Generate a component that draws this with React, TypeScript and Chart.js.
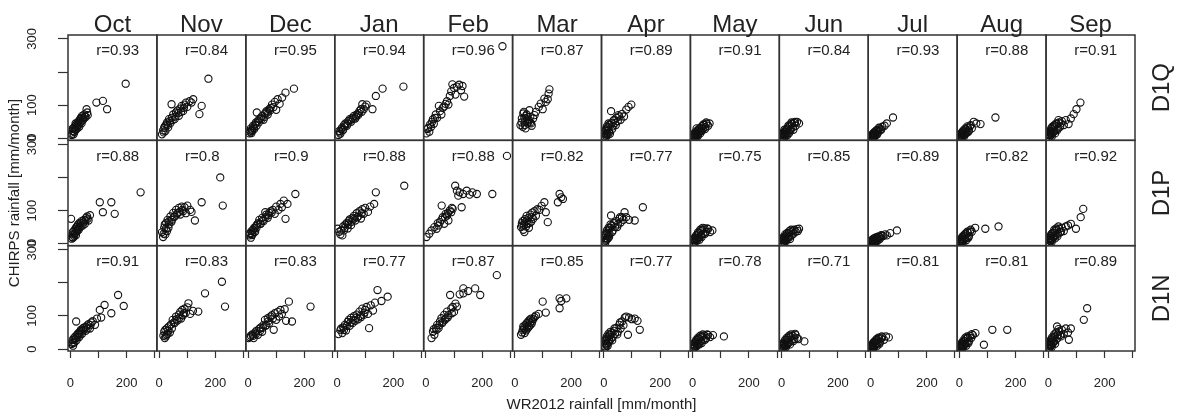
import React, { useEffect, useRef } from 'react';
import { Chart, registerables } from 'chart.js';

Chart.register(...registerables);

const MONTHS = ['Oct', 'Nov', 'Dec', 'Jan', 'Feb', 'Mar', 'Apr', 'May', 'Jun', 'Jul', 'Aug', 'Sep'];
const STATIONS = ['D1Q', 'D1P', 'D1N'];

const R_D1Q = [0.93, 0.84, 0.95, 0.94, 0.96, 0.87, 0.89, 0.91, 0.84, 0.93, 0.88, 0.91];
const R_D1P = [0.88, 0.8, 0.9, 0.88, 0.88, 0.82, 0.77, 0.75, 0.85, 0.89, 0.82, 0.92];
const R_D1N = [0.91, 0.83, 0.83, 0.77, 0.87, 0.85, 0.77, 0.78, 0.71, 0.81, 0.81, 0.89];

const X_TICKS = [0, 100, 200, 300];
const X_TICK_LABELS = ['0', '', '200', ''];
const Y_TICKS = [0, 100, 200, 300];
const Y_TICK_LABELS = ['0', '100', '', '300'];

const X_TITLE = 'WR2012 rainfall [mm/month]';
const Y_TITLE = 'CHIRPS rainfall [mm/month]';

type Pt = [number, number];

// D1Q row: one list of [WR2012, CHIRPS] pairs per month (Oct..Sep)
const D1Q: Pt[][] = [
  [[5,10],[8,22],[10,28],[12,12],[14,32],[15,20],[18,38],[20,26],[22,42],[25,30],[27,48],[30,52],[32,35],[35,58],[38,62],[40,45],[42,68],[45,55],[50,72],[55,64],[58,88],[62,70],[93,108],[116,113],[131,88],[197,165],[7,14],[9,30],[13,20],[17,28],[19,45],[24,38],[29,40],[34,45],[37,50],[44,62],[48,60],[52,66],[60,78]],
  [[10,12],[14,24],[18,32],[22,22],[25,42],[28,48],[32,33],[35,58],[40,46],[44,103],[45,62],[50,72],[55,58],[60,78],[65,84],[70,68],[75,90],[80,98],[85,82],[90,102],[95,108],[100,95],[108,112],[115,108],[121,118],[143,73],[151,98],[175,180],[16,18],[20,36],[30,40],[38,52],[48,55],[58,66],[68,76],[78,80],[88,92]],
  [[5,15],[8,24],[10,30],[12,16],[15,26],[18,38],[22,28],[25,42],[28,48],[31,78],[35,52],[40,58],[45,62],[50,68],[55,56],[60,75],[65,82],[70,72],[75,88],[80,92],[85,102],[90,94],[95,110],[100,86],[105,118],[112,104],[121,123],[133,138],[163,150],[7,20],[14,22],[20,32],[30,38],[38,48],[48,58],[58,64],[68,78],[78,84]],
  [[5,10],[8,22],[12,14],[15,27],[18,32],[22,26],[25,40],[30,45],[35,38],[40,52],[45,58],[50,50],[55,62],[60,68],[65,60],[70,72],[75,70],[80,83],[85,88],[90,103],[95,88],[100,96],[105,102],[126,88],[138,128],[162,150],[236,156],[10,18],[20,24],[28,36],[38,44],[48,55],[58,58],[68,66],[78,76],[88,80]],
  [[2,15],[5,28],[8,32],[12,20],[15,42],[18,34],[22,50],[25,58],[28,44],[32,62],[35,72],[40,62],[46,98],[50,82],[55,72],[60,92],[65,96],[70,104],[75,112],[80,102],[85,128],[90,142],[94,163],[100,152],[105,132],[110,156],[118,162],[125,145],[130,158],[136,126],[272,278]],
  [[20,40],[25,60],[30,75],[35,50],[28,35],[40,68],[45,45],[32,80],[50,55],[38,30],[55,65],[48,50],[60,38],[42,72],[65,60],[52,85],[70,70],[58,45],[75,80],[85,95],[92,105],[99,88],[105,120],[110,110],[117,118],[123,148],[120,135],[24,48],[34,62],[44,58],[54,48],[36,40]],
  [[2,5],[4,14],[6,22],[8,8],[10,30],[12,16],[15,34],[18,24],[20,42],[22,14],[26,82],[28,46],[32,36],[35,54],[40,46],[45,62],[50,52],[55,66],[60,56],[65,74],[72,66],[80,87],[88,95],[98,102],[3,18],[5,2],[7,26],[9,12],[11,36],[14,10],[17,45],[19,18],[24,40],[30,28],[38,56],[43,40],[52,70]],
  [[2,2],[4,8],[6,3],[8,12],[10,6],[12,17],[15,10],[18,22],[20,14],[22,27],[25,20],[28,32],[30,24],[33,37],[36,28],[40,40],[45,34],[50,44],[55,38],[60,45],[3,10],[5,14],[7,2],[9,18],[14,5],[16,24],[19,8],[24,30],[27,15],[32,22],[38,42],[44,28],[48,48],[14,30]],
  [[2,3],[4,10],[6,4],[8,14],[10,8],[12,20],[15,12],[18,24],[20,30],[22,18],[25,34],[28,24],[30,40],[33,28],[36,44],[40,33],[45,47],[50,38],[55,50],[62,45],[3,12],[5,16],[7,2],[9,20],[14,6],[17,28],[21,10],[24,38],[27,16],[31,24],[35,48],[42,26],[48,50],[10,26]],
  [[1,2],[3,6],[5,9],[7,3],[9,12],[11,6],[13,16],[15,10],[18,18],[20,22],[22,13],[25,24],[28,23],[32,30],[36,27],[42,35],[50,38],[58,45],[80,63],[2,8],[4,1],[6,12],[8,6],[10,15],[12,3],[14,19],[17,8],[21,25],[24,12],[27,18],[30,32],[38,26]],
  [[1,2],[3,6],[5,12],[7,5],[9,16],[11,7],[13,20],[15,10],[18,24],[20,14],[23,27],[26,18],[30,32],[34,24],[38,37],[44,30],[51,50],[60,45],[75,43],[128,63],[2,8],[4,1],[6,14],[8,3],[10,19],[12,12],[14,24],[17,6],[21,30],[24,15],[28,36],[32,20],[40,40]],
  [[1,3],[3,10],[5,17],[7,8],[9,22],[11,12],[13,28],[15,16],[18,33],[20,20],[23,38],[26,26],[30,43],[34,30],[38,48],[42,35],[48,52],[55,40],[62,55],[72,43],[80,60],[90,73],[100,88],[114,108],[2,12],[4,2],[6,20],[8,15],[10,30],[12,5],[14,35],[17,24],[21,40],[24,15],[28,45],[32,25],[36,55],[45,45]],
];

const D1P: Pt[][] = [
  [[3,75],[5,15],[8,28],[10,18],[12,38],[15,28],[18,45],[20,25],[22,50],[25,38],[28,58],[30,42],[33,63],[36,50],[40,68],[44,55],[48,72],[52,60],[56,78],[60,82],[65,70],[70,86],[105,125],[116,95],[146,125],[158,90],[250,155],[6,20],[9,35],[14,22],[17,32],[21,38],[24,52],[27,45],[32,50],[38,62],[46,64],[54,70],[62,75]],
  [[10,35],[14,20],[18,48],[20,58],[22,28],[25,63],[28,38],[30,72],[33,48],[36,68],[40,82],[45,72],[50,93],[55,82],[60,102],[65,92],[70,108],[75,88],[80,112],[85,98],[90,110],[95,92],[100,115],[110,102],[115,96],[127,70],[151,125],[217,200],[226,115],[16,30],[24,45],[34,58],[44,66],[52,80],[62,88],[72,96],[82,102]],
  [[5,25],[8,32],[10,18],[12,38],[15,26],[18,42],[22,48],[25,36],[28,53],[32,58],[36,62],[40,72],[45,60],[50,78],[55,68],[61,95],[65,88],[70,78],[75,93],[80,98],[88,102],[95,90],[100,112],[108,102],[115,120],[120,110],[127,130],[133,75],[140,120],[168,150],[6,30],[14,30],[20,36],[30,48],[42,60],[52,70],[62,80],[72,86],[84,94]],
  [[2,45],[8,36],[12,28],[19,25],[22,52],[25,40],[30,58],[35,63],[38,46],[42,68],[45,73],[50,56],[55,78],[60,84],[65,70],[70,92],[75,82],[80,98],[85,76],[90,104],[95,90],[100,108],[110,96],[118,112],[132,120],[138,155],[239,175],[15,40],[28,48],[40,58],[52,66],[62,76],[72,80],[88,92]],
  [[2,20],[12,30],[20,40],[38,45],[45,55],[50,65],[56,115],[60,80],[65,60],[70,90],[75,85],[80,70],[85,100],[90,95],[95,105],[104,175],[110,160],[115,145],[120,155],[127,110],[132,150],[145,160],[155,148],[165,155],[181,150],[236,150],[288,265],[30,50],[42,62],[55,72],[68,80],[78,92],[92,108]],
  [[22,50],[25,62],[28,68],[30,42],[34,35],[36,74],[40,52],[42,84],[45,60],[48,78],[50,48],[55,88],[58,66],[62,94],[65,75],[70,98],[75,84],[80,104],[88,102],[95,114],[105,125],[117,65],[110,95],[153,125],[159,150],[165,140],[171,135],[26,55],[33,58],[44,70],[52,62],[60,80],[38,66]],
  [[2,5],[4,17],[6,9],[8,25],[10,16],[12,33],[15,22],[18,42],[20,30],[22,48],[26,85],[28,54],[32,40],[35,62],[40,50],[45,68],[50,58],[55,75],[60,64],[65,80],[70,72],[74,95],[80,80],[90,72],[110,70],[139,110],[3,25],[5,2],[7,30],[9,12],[11,40],[14,15],[17,48],[19,20],[24,58],[30,35],[38,62],[48,50],[58,80]],
  [[2,3],[4,10],[6,14],[8,5],[10,18],[12,22],[15,9],[18,28],[20,16],[22,33],[25,20],[28,38],[30,26],[34,42],[38,30],[42,46],[48,36],[55,44],[62,35],[70,40],[3,14],[5,2],[7,18],[9,10],[13,26],[16,14],[19,34],[24,12],[27,42],[32,20],[36,48],[44,30],[52,46]],
  [[2,4],[4,10],[6,14],[8,5],[10,18],[12,9],[15,23],[18,13],[20,28],[22,16],[25,31],[28,20],[32,35],[36,26],[40,38],[45,42],[50,36],[55,44],[62,45],[3,14],[5,2],[7,20],[9,12],[13,28],[16,8],[19,32],[24,22],[27,38],[30,14],[34,42],[42,30],[58,38]],
  [[1,2],[3,6],[5,9],[7,3],[9,12],[11,6],[13,14],[15,8],[18,16],[20,10],[23,18],[26,12],[30,20],[35,19],[40,24],[45,23],[52,28],[58,25],[70,32],[94,40],[2,8],[4,1],[6,12],[8,6],[10,14],[12,3],[14,17],[17,6],[21,20],[24,8],[28,22],[33,14],[38,26]],
  [[1,2],[3,7],[5,12],[7,3],[9,16],[11,7],[13,20],[15,10],[18,25],[20,14],[23,29],[26,18],[30,33],[34,23],[38,37],[44,36],[56,48],[92,45],[139,52],[2,8],[4,1],[6,14],[8,8],[10,20],[12,3],[14,24],[17,16],[21,30],[24,10],[28,36],[32,18],[40,42]],
  [[1,5],[3,12],[5,17],[7,7],[9,23],[11,11],[13,28],[15,16],[18,33],[20,20],[23,38],[26,26],[30,41],[34,30],[38,45],[42,34],[48,48],[55,38],[62,52],[70,55],[80,60],[98,45],[115,80],[124,105],[2,14],[4,3],[6,22],[8,14],[10,28],[12,6],[14,32],[17,22],[21,42],[24,16],[28,46],[32,22],[36,52],[45,36]],
];

const D1N: Pt[][] = [
  [[5,15],[8,27],[10,10],[12,32],[15,20],[18,38],[21,83],[22,26],[25,43],[28,48],[32,36],[35,53],[38,58],[42,46],[45,63],[50,65],[55,55],[60,71],[65,75],[70,62],[75,80],[80,84],[88,73],[95,92],[105,118],[110,95],[122,133],[146,108],[170,163],[190,130],[7,20],[11,18],[16,30],[20,32],[26,36],[30,45],[36,44],[40,55],[48,58],[56,66],[62,62],[72,72]],
  [[15,40],[18,52],[20,33],[22,58],[26,43],[28,63],[30,46],[35,68],[38,50],[42,74],[48,88],[55,78],[60,98],[65,86],[70,104],[75,112],[78,92],[82,118],[85,102],[90,122],[95,110],[100,126],[104,138],[110,106],[120,115],[139,113],[163,168],[223,203],[234,128],[24,38],[32,55],[45,62],[52,80],[62,90],[72,94],[88,108]],
  [[2,33],[10,40],[15,44],[20,33],[25,50],[30,55],[35,43],[40,61],[45,65],[50,52],[55,73],[60,88],[65,72],[70,93],[75,78],[80,98],[85,102],[91,58],[95,108],[100,88],[105,112],[110,98],[115,118],[120,106],[130,120],[135,85],[145,143],[156,83],[222,128],[6,36],[18,40],[28,46],[42,54],[52,64],[62,70],[72,84],[88,92]],
  [[5,45],[12,57],[19,48],[22,65],[28,73],[32,56],[38,82],[42,88],[45,70],[50,94],[55,78],[60,99],[65,85],[70,104],[75,90],[80,113],[85,96],[90,122],[95,103],[100,118],[105,127],[110,106],[114,63],[120,132],[128,116],[135,140],[144,178],[158,145],[180,158],[15,62],[25,58],[35,70],[48,80],[58,88],[68,94],[82,100],[98,110]],
  [[20,33],[25,52],[30,43],[35,63],[40,73],[45,63],[50,83],[55,93],[60,82],[65,103],[70,92],[75,113],[80,102],[86,163],[90,122],[95,127],[100,112],[105,137],[110,128],[120,165],[133,183],[133,168],[150,175],[175,183],[193,163],[252,223],[28,60],[38,58],[48,72],[58,78],[68,88],[78,96],[92,108]],
  [[22,43],[28,57],[32,64],[35,48],[38,73],[40,56],[42,78],[45,62],[48,83],[50,67],[52,88],[55,72],[58,92],[60,77],[65,90],[70,96],[75,101],[85,106],[99,143],[110,110],[159,153],[165,145],[159,123],[183,153],[26,50],[34,60],[44,70],[54,80],[62,84],[30,68]],
  [[3,8],[6,17],[8,24],[10,10],[12,31],[15,18],[18,38],[20,23],[22,43],[25,30],[28,48],[32,36],[36,55],[40,45],[45,64],[50,52],[55,73],[60,62],[65,83],[70,72],[75,95],[80,98],[86,43],[90,95],[100,90],[110,92],[120,85],[128,58],[4,25],[5,3],[7,30],[9,16],[11,38],[14,10],[17,46],[19,28],[24,52],[30,26],[38,62],[48,44],[58,80]],
  [[2,3],[4,10],[6,14],[8,5],[10,18],[12,22],[15,9],[18,27],[20,16],[22,31],[25,20],[28,35],[30,24],[34,38],[38,28],[42,41],[48,33],[55,42],[62,36],[72,42],[111,38],[3,14],[5,2],[7,20],[9,10],[13,28],[16,14],[19,34],[24,14],[27,40],[32,18],[36,44],[44,28],[52,44]],
  [[2,4],[4,10],[6,14],[8,5],[10,18],[12,8],[15,23],[18,12],[20,28],[22,16],[25,33],[28,20],[32,37],[36,26],[40,40],[45,30],[50,42],[55,33],[60,30],[81,23],[3,14],[5,2],[7,20],[9,12],[13,28],[16,6],[19,34],[24,22],[27,40],[30,14],[34,44],[42,24],[48,46]],
  [[1,2],[3,7],[5,12],[7,3],[9,16],[11,7],[13,20],[15,10],[18,24],[20,14],[23,28],[26,18],[30,30],[34,22],[38,32],[42,35],[48,28],[55,38],[65,35],[2,9],[4,1],[6,14],[8,7],[10,19],[12,3],[14,23],[17,14],[21,30],[24,10],[28,34],[32,16],[40,38]],
  [[1,2],[3,7],[5,12],[7,3],[9,16],[11,7],[13,20],[15,10],[18,24],[20,14],[23,30],[26,20],[30,34],[34,24],[38,40],[42,33],[48,42],[57,48],[87,13],[117,58],[170,58],[2,9],[4,1],[6,16],[8,8],[10,20],[12,3],[14,26],[17,15],[21,34],[24,10],[28,38],[32,18],[44,45]],
  [[1,3],[3,10],[5,17],[7,8],[9,22],[11,12],[13,28],[15,16],[18,33],[20,22],[23,38],[26,26],[31,68],[34,43],[38,53],[42,42],[48,58],[55,46],[62,62],[70,50],[73,28],[80,62],[126,88],[138,123],[2,14],[4,3],[6,22],[8,14],[10,30],[12,6],[14,36],[17,22],[21,44],[24,16],[28,50],[32,32],[36,60],[45,38]],
];

const ROWS = [D1Q, D1P, D1N];
const R_VALUES = [R_D1Q, R_D1P, R_D1N];

// styling / layout constants
const FONT = '"Liberation Sans", Arial, Helvetica, sans-serif';
const INK = '#222222';
const X_MIN = -8;
const X_MAX = 308;
const Y_MIN = -6;
const Y_MAX = 312;
const R_LABEL_AT: [number, number] = [92, 263];

const zeroPadding = (s: any) => {
  s.paddingTop = 0;
  s.paddingBottom = 0;
  s.paddingLeft = 0;
  s.paddingRight = 0;
};

const panelPlugin = {
  id: 'panelDecor',
  afterDraw(chart: any) {
    const ctx: CanvasRenderingContext2D = chart.ctx;
    const area = chart.chartArea;
    ctx.save();
    ctx.strokeStyle = '#333333';
    ctx.lineWidth = 1.5;
    for (let r = 0; r < STATIONS.length; r++) {
      const ys = chart.scales['y' + r];
      for (let c = 0; c < MONTHS.length; c++) {
        const xs = chart.scales['x' + c];
        ctx.strokeRect(xs.left, ys.top, xs.right - xs.left, ys.bottom - ys.top);
      }
    }
    ctx.fillStyle = INK;
    ctx.font = `15px ${FONT}`;
    ctx.textAlign = 'left';
    ctx.textBaseline = 'middle';
    for (let r = 0; r < STATIONS.length; r++) {
      const ys = chart.scales['y' + r];
      for (let c = 0; c < MONTHS.length; c++) {
        const xs = chart.scales['x' + c];
        ctx.fillText('r=' + String(R_VALUES[r][c]), xs.getPixelForValue(R_LABEL_AT[0]), ys.getPixelForValue(R_LABEL_AT[1]));
      }
    }
    ctx.font = `24px ${FONT}`;
    ctx.textAlign = 'center';
    ctx.textBaseline = 'alphabetic';
    for (let c = 0; c < MONTHS.length; c++) {
      const xs = chart.scales['x' + c];
      ctx.fillText(MONTHS[c], (xs.left + xs.right) / 2, area.top - 3);
    }
    ctx.textBaseline = 'middle';
    for (let r = 0; r < STATIONS.length; r++) {
      const ys = chart.scales['y' + r];
      ctx.save();
      ctx.translate(area.right + 27, (ys.top + ys.bottom) / 2);
      ctx.rotate(-Math.PI / 2);
      ctx.fillText(STATIONS[r], 0, 0);
      ctx.restore();
    }
    ctx.font = `15px ${FONT}`;
    ctx.fillText(X_TITLE, (area.left + area.right) / 2, chart.height - 10);
    ctx.save();
    ctx.translate(15, (area.top + area.bottom) / 2);
    ctx.rotate(-Math.PI / 2);
    ctx.fillText(Y_TITLE, 0, 0);
    ctx.restore();
    ctx.restore();
  },
};

export default function App() {
  const canvasRef = useRef<HTMLCanvasElement | null>(null);

  useEffect(() => {
    document.body.style.margin = '0';
    document.body.style.overflow = 'hidden';
    const canvas = canvasRef.current;
    if (!canvas) return;

    const scales: any = {};
    MONTHS.forEach((_, c) => {
      scales['x' + c] = {
        type: 'linear',
        position: 'bottom',
        stack: 'columns',
        stackWeight: 1,
        min: X_MIN,
        max: X_MAX,
        afterBuildTicks: (s: any) => {
          s.ticks = X_TICKS.map((v) => ({ value: v }));
        },
        afterFit: (s: any) => {
          s.height = 64;
          zeroPadding(s);
        },
        border: { display: false },
        grid: {
          display: true,
          drawOnChartArea: false,
          drawTicks: true,
          tickLength: 7,
          tickColor: '#333333',
          tickWidth: 1.2,
        },
        ticks: {
          autoSkip: false,
          maxRotation: 0,
          minRotation: 0,
          padding: 18,
          color: INK,
          font: { family: FONT, size: 13 },
          callback: (_v: any, i: number) => X_TICK_LABELS[i],
        },
      };
    });
    // left-stacked axes are laid out in reverse order, so add the bottom row first
    for (let r = STATIONS.length - 1; r >= 0; r--) {
      scales['y' + r] = {
        type: 'linear',
        position: 'left',
        stack: 'rows',
        stackWeight: 1,
        min: Y_MIN,
        max: Y_MAX,
        afterBuildTicks: (s: any) => {
          s.ticks = Y_TICKS.map((v) => ({ value: v }));
        },
        afterFit: (s: any) => {
          s.width = 68;
          zeroPadding(s);
        },
        border: { display: false },
        grid: {
          display: true,
          drawOnChartArea: false,
          drawTicks: true,
          tickLength: 10,
          tickColor: '#333333',
          tickWidth: 1.2,
        },
        ticks: {
          autoSkip: false,
          minRotation: 90,
          maxRotation: 90,
          crossAlign: 'center',
          padding: 15,
          color: INK,
          font: { family: FONT, size: 13 },
          callback: (_v: any, i: number) => Y_TICK_LABELS[i],
        },
      };
    }

    const datasets: any[] = [];
    ROWS.forEach((row, r) => {
      row.forEach((pts, c) => {
        datasets.push({
          label: STATIONS[r] + ' ' + MONTHS[c],
          data: pts.map(([x, y]) => ({ x, y })),
          xAxisID: 'x' + c,
          yAxisID: 'y' + r,
          pointRadius: 3.6,
          pointBorderWidth: 1.1,
          pointBorderColor: '#111111',
          pointBackgroundColor: 'rgba(0,0,0,0)',
          showLine: false,
        });
      });
    });

    const chart = new Chart(canvas, {
      type: 'scatter',
      data: { datasets },
      options: {
        responsive: false,
        animation: false,
        devicePixelRatio: 1,
        events: [],
        layout: { padding: { left: 0, top: 35, right: 44, bottom: 0 } },
        plugins: { legend: { display: false }, tooltip: { enabled: false }, title: { display: false } },
        scales,
      } as any,
      plugins: [panelPlugin],
    });
    return () => chart.destroy();
  }, []);

  return (
    <div style={{ width: 1179, height: 415, background: '#ffffff' }}>
      <canvas ref={canvasRef} width={1179} height={415} style={{ display: 'block' }} />
    </div>
  );
}
